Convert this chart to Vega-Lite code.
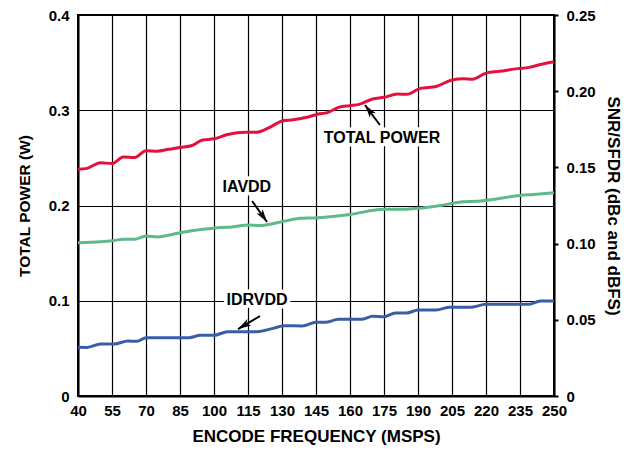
{
  "$schema": "https://vega.github.io/schema/vega-lite/v6.json",
  "width": 476,
  "height": 381,
  "autosize": {"type": "none"},
  "padding": {"left": 78, "top": 15, "right": 70, "bottom": 55},
  "background": "white",
  "config": {
    "font": "Liberation Sans",
    "view": {"stroke": "black", "strokeWidth": 2},
    "axis": {
      "labelFont": "Liberation Sans",
      "labelFontWeight": "bold",
      "labelFontSize": 15,
      "labelColor": "black",
      "titleFont": "Liberation Sans",
      "titleFontWeight": "bold",
      "titleFontSize": 16,
      "titleColor": "black",
      "domainColor": "black",
      "domainWidth": 2,
      "gridColor": "black",
      "gridWidth": 1.2,
      "gridOpacity": 1,
      "tickColor": "black"
    }
  },
  "datasets": {
    "curves": [
      {"f": 40, "series": "TOTAL POWER", "p": 0.238},
      {"f": 44, "series": "TOTAL POWER", "p": 0.239},
      {"f": 50, "series": "TOTAL POWER", "p": 0.245},
      {"f": 55, "series": "TOTAL POWER", "p": 0.244},
      {"f": 60, "series": "TOTAL POWER", "p": 0.251},
      {"f": 65, "series": "TOTAL POWER", "p": 0.2505},
      {"f": 70, "series": "TOTAL POWER", "p": 0.2575},
      {"f": 75, "series": "TOTAL POWER", "p": 0.257},
      {"f": 80, "series": "TOTAL POWER", "p": 0.259},
      {"f": 85, "series": "TOTAL POWER", "p": 0.261},
      {"f": 90, "series": "TOTAL POWER", "p": 0.2627},
      {"f": 95, "series": "TOTAL POWER", "p": 0.2688},
      {"f": 100, "series": "TOTAL POWER", "p": 0.27},
      {"f": 106, "series": "TOTAL POWER", "p": 0.2745},
      {"f": 114, "series": "TOTAL POWER", "p": 0.277},
      {"f": 119, "series": "TOTAL POWER", "p": 0.277},
      {"f": 125, "series": "TOTAL POWER", "p": 0.2826},
      {"f": 130, "series": "TOTAL POWER", "p": 0.2887},
      {"f": 135, "series": "TOTAL POWER", "p": 0.29},
      {"f": 141, "series": "TOTAL POWER", "p": 0.2926},
      {"f": 146, "series": "TOTAL POWER", "p": 0.296},
      {"f": 150, "series": "TOTAL POWER", "p": 0.2975},
      {"f": 155, "series": "TOTAL POWER", "p": 0.303},
      {"f": 160, "series": "TOTAL POWER", "p": 0.3048},
      {"f": 164, "series": "TOTAL POWER", "p": 0.3062},
      {"f": 170, "series": "TOTAL POWER", "p": 0.3118},
      {"f": 175, "series": "TOTAL POWER", "p": 0.3136},
      {"f": 181, "series": "TOTAL POWER", "p": 0.317},
      {"f": 185, "series": "TOTAL POWER", "p": 0.3167},
      {"f": 191, "series": "TOTAL POWER", "p": 0.323},
      {"f": 198, "series": "TOTAL POWER", "p": 0.325},
      {"f": 205, "series": "TOTAL POWER", "p": 0.3318},
      {"f": 210, "series": "TOTAL POWER", "p": 0.333},
      {"f": 214, "series": "TOTAL POWER", "p": 0.3325},
      {"f": 220, "series": "TOTAL POWER", "p": 0.339},
      {"f": 226, "series": "TOTAL POWER", "p": 0.3409},
      {"f": 234, "series": "TOTAL POWER", "p": 0.3437},
      {"f": 239, "series": "TOTAL POWER", "p": 0.345},
      {"f": 244, "series": "TOTAL POWER", "p": 0.348},
      {"f": 250, "series": "TOTAL POWER", "p": 0.351},

      {"f": 40, "series": "IAVDD", "p": 0.161},
      {"f": 50, "series": "IAVDD", "p": 0.162},
      {"f": 55, "series": "IAVDD", "p": 0.163},
      {"f": 60, "series": "IAVDD", "p": 0.1645},
      {"f": 65, "series": "IAVDD", "p": 0.1645},
      {"f": 70, "series": "IAVDD", "p": 0.168},
      {"f": 75, "series": "IAVDD", "p": 0.167},
      {"f": 85, "series": "IAVDD", "p": 0.1715},
      {"f": 95, "series": "IAVDD", "p": 0.175},
      {"f": 103, "series": "IAVDD", "p": 0.177},
      {"f": 108, "series": "IAVDD", "p": 0.1775},
      {"f": 115, "series": "IAVDD", "p": 0.1795},
      {"f": 120, "series": "IAVDD", "p": 0.179},
      {"f": 130, "series": "IAVDD", "p": 0.183},
      {"f": 138, "series": "IAVDD", "p": 0.1865},
      {"f": 144, "series": "IAVDD", "p": 0.187},
      {"f": 160, "series": "IAVDD", "p": 0.1906},
      {"f": 175, "series": "IAVDD", "p": 0.196},
      {"f": 184, "series": "IAVDD", "p": 0.196},
      {"f": 190, "series": "IAVDD", "p": 0.197},
      {"f": 200, "series": "IAVDD", "p": 0.2},
      {"f": 210, "series": "IAVDD", "p": 0.204},
      {"f": 216, "series": "IAVDD", "p": 0.2044},
      {"f": 223, "series": "IAVDD", "p": 0.2064},
      {"f": 235, "series": "IAVDD", "p": 0.2106},
      {"f": 241, "series": "IAVDD", "p": 0.2116},
      {"f": 250, "series": "IAVDD", "p": 0.2134},

      {"f": 40, "series": "IDRVDD", "p": 0.0511},
      {"f": 44, "series": "IDRVDD", "p": 0.051},
      {"f": 50, "series": "IDRVDD", "p": 0.0546},
      {"f": 56, "series": "IDRVDD", "p": 0.0546},
      {"f": 62, "series": "IDRVDD", "p": 0.0577},
      {"f": 66, "series": "IDRVDD", "p": 0.0574},
      {"f": 70, "series": "IDRVDD", "p": 0.0612},
      {"f": 89, "series": "IDRVDD", "p": 0.0612},
      {"f": 94, "series": "IDRVDD", "p": 0.0637},
      {"f": 100, "series": "IDRVDD", "p": 0.0637},
      {"f": 106, "series": "IDRVDD", "p": 0.0675},
      {"f": 119, "series": "IDRVDD", "p": 0.0675},
      {"f": 126, "series": "IDRVDD", "p": 0.071},
      {"f": 131, "series": "IDRVDD", "p": 0.0738},
      {"f": 139, "series": "IDRVDD", "p": 0.0735},
      {"f": 145, "series": "IDRVDD", "p": 0.0773},
      {"f": 149, "series": "IDRVDD", "p": 0.0773},
      {"f": 155, "series": "IDRVDD", "p": 0.0805},
      {"f": 165, "series": "IDRVDD", "p": 0.0805},
      {"f": 170, "series": "IDRVDD", "p": 0.0837},
      {"f": 175, "series": "IDRVDD", "p": 0.0833},
      {"f": 180, "series": "IDRVDD", "p": 0.0871},
      {"f": 185, "series": "IDRVDD", "p": 0.0871},
      {"f": 190, "series": "IDRVDD", "p": 0.0903},
      {"f": 198, "series": "IDRVDD", "p": 0.0903},
      {"f": 204, "series": "IDRVDD", "p": 0.0931},
      {"f": 213, "series": "IDRVDD", "p": 0.0931},
      {"f": 220, "series": "IDRVDD", "p": 0.0962},
      {"f": 239, "series": "IDRVDD", "p": 0.0962},
      {"f": 244, "series": "IDRVDD", "p": 0.0997},
      {"f": 250, "series": "IDRVDD", "p": 0.0997}
    ],
    "labels": [
      {"label": "TOTAL POWER", "f": 174.1, "p": 0.2709},
      {"label": "IAVDD", "f": 114.5, "p": 0.2194},
      {"label": "IDRVDD", "f": 119, "p": 0.1008}
    ],
    "arrows": [
      {"label": "TOTAL POWER", "f": 173.2, "p": 0.2845, "f2": 166.6, "p2": 0.3055},
      {"label": "IAVDD", "f": 116.8, "p": 0.2047, "f2": 123.4, "p2": 0.1827},
      {"label": "IDRVDD", "f": 120.3, "p": 0.084, "f2": 110.6, "p2": 0.0703}
    ]
  },
  "encoding": {
    "x": {
      "field": "f",
      "type": "quantitative",
      "scale": {"domain": [40, 250], "nice": false, "zero": false},
      "axis": {
        "title": "ENCODE FREQUENCY (MSPS)",
        "titleFontSize": 17,
        "values": [40, 55, 70, 85, 100, 115, 130, 145, 160, 175, 190, 205, 220, 235, 250],
        "grid": true,
        "ticks": false,
        "tickSize": 0,
        "labelPadding": 7,
        "titlePadding": 10,
        "labelFlush": false
      }
    }
  },
  "layer": [
    {
      "layer": [
        {
          "data": {"name": "curves"},
          "mark": {"type": "line", "strokeWidth": 3, "interpolate": "monotone"},
          "encoding": {
            "y": {
              "field": "p",
              "type": "quantitative",
              "scale": {"domain": [0, 0.4], "nice": false},
              "axis": {
                "title": "TOTAL POWER (W)",
                "titleFontSize": 15.5,
                "orient": "left",
                "values": [0, 0.1, 0.2, 0.3, 0.4],
                "format": ".1~f",
                "grid": true,
                "ticks": false,
                "tickSize": 0,
                "labelPadding": 9,
                "titlePadding": 16
              }
            },
            "color": {
              "field": "series",
              "type": "nominal",
              "scale": {"domain": ["TOTAL POWER", "IAVDD", "IDRVDD"], "range": ["#e2123d", "#5eb98d", "#3a5ea6"]},
              "legend": null
            }
          }
        },
        {
          "data": {"name": "arrows"},
          "mark": {"type": "rule", "color": "black", "strokeWidth": 2},
          "encoding": {
            "y": {"field": "p", "type": "quantitative"},
            "x2": {"field": "f2"},
            "y2": {"field": "p2"}
          }
        },
        {
          "data": {"name": "arrows"},
          "transform": [{"filter": "datum.label == 'TOTAL POWER'"}],
          "mark": {"type": "point", "shape": "M0,0L0.62,2.2L0,1.6L-0.62,2.2Z", "size": 144, "filled": true, "color": "black", "opacity": 1, "angle": 323},
          "encoding": {
            "x": {"field": "f2", "type": "quantitative"},
            "y": {"field": "p2", "type": "quantitative"}
          }
        },
        {
          "data": {"name": "arrows"},
          "transform": [{"filter": "datum.label == 'IAVDD'"}],
          "mark": {"type": "point", "shape": "M0,0L0.62,2.2L0,1.6L-0.62,2.2Z", "size": 144, "filled": true, "color": "black", "opacity": 1, "angle": 145},
          "encoding": {
            "x": {"field": "f2", "type": "quantitative"},
            "y": {"field": "p2", "type": "quantitative"}
          }
        },
        {
          "data": {"name": "arrows"},
          "transform": [{"filter": "datum.label == 'IDRVDD'"}],
          "mark": {"type": "point", "shape": "M0,0L0.62,2.2L0,1.6L-0.62,2.2Z", "size": 144, "filled": true, "color": "black", "opacity": 1, "angle": 239},
          "encoding": {
            "x": {"field": "f2", "type": "quantitative"},
            "y": {"field": "p2", "type": "quantitative"}
          }
        },
        {
          "data": {"name": "labels"},
          "mark": {"type": "text", "font": "Liberation Sans", "fontWeight": "bold", "fontSize": 16, "fill": "white", "stroke": "white", "strokeWidth": 7, "strokeJoin": "round", "align": "center", "baseline": "middle"},
          "encoding": {
            "y": {"field": "p", "type": "quantitative"},
            "text": {"field": "label"}
          }
        },
        {
          "data": {"name": "labels"},
          "mark": {"type": "text", "font": "Liberation Sans", "fontWeight": "bold", "fontSize": 16, "color": "black", "align": "center", "baseline": "middle"},
          "encoding": {
            "y": {"field": "p", "type": "quantitative"},
            "text": {"field": "label"}
          }
        }
      ]
    },
    {
      "data": {"name": "curves"},
      "mark": {"type": "line", "opacity": 0},
      "encoding": {
        "y": {
          "field": "p",
          "type": "quantitative",
          "scale": {"domain": [0, 0.25], "nice": false},
          "axis": {
            "title": "SNR/SFDR (dBc and dBFS)",
            "titleFontSize": 17,
            "orient": "right",
            "values": [0, 0.05, 0.1, 0.15, 0.2, 0.25],
            "labelExpr": "datum.value == 0 ? '0' : format(datum.value, '.2f')",
            "grid": false,
            "ticks": true,
            "tickSize": 4,
            "tickWidth": 2,
            "labelPadding": 8,
            "titlePadding": 8
          }
        },
        "detail": {"field": "series", "type": "nominal"}
      }
    }
  ],
  "resolve": {"scale": {"y": "independent"}, "axis": {"y": "independent"}}
}
